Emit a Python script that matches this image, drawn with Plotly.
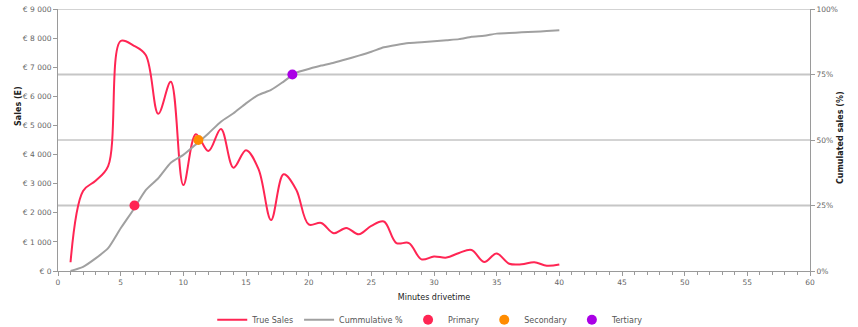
import plotly.graph_objects as go

minutes = list(range(1, 41))
true_sales = [300, 2750, 3100, 3600, 7900, 7750, 7420, 5400, 6500, 2950,
              4700, 4120, 4880, 3550, 4150, 3500, 1750, 3320, 2800, 1600,
              1650, 1300, 1480, 1260, 1550, 1700, 960, 960, 400, 500,
              460, 620, 720, 310, 600, 250, 230, 300, 180, 220]
cumulative_pct = [0, 1.6, 4.8, 8.7, 16.3, 23.3, 30.9, 35.4, 41.3, 44.3,
                  48.3, 52.5, 57.0, 60.2, 64.0, 67.2, 69.1, 72.3, 75.7, 77.1,
                  78.4, 79.5, 80.8, 82.2, 83.7, 85.4, 86.3, 87.0, 87.3, 87.7,
                  88.1, 88.5, 89.4, 89.8, 90.6, 90.8, 91.1, 91.3, 91.6, 91.9]

markers = ["Primary", "Secondary", "Tertiary"]
marker_x = [6.1, 11.2, 18.7]
marker_pct = [25, 50, 75]
marker_colors = ["#ff2553", "#ff8c00", "#aa00e6"]

sales_ticks = list(range(0, 9001, 1000))
sales_ticktext = ["€ " + (f"{v:,}".replace(",", " ")) for v in sales_ticks]
pct_ticks = [0, 25, 50, 75, 100]
pct_ticktext = [f"{v}%" for v in pct_ticks]
dark_levels = [50, 100]
light_levels = [25, 75]

FONT = "DejaVu Sans"
AX = "#9a9a9a"
TXT = "#666666"
TITLE = "#222222"
TICKSIZE = 7.5

fig = go.Figure()
fig.add_trace(go.Scatter(x=minutes, y=true_sales, name="True Sales", mode="lines",
                         line=dict(color="#ff2553", width=2, shape="spline", smoothing=1.0),
                         yaxis="y"))
fig.add_trace(go.Scatter(x=minutes, y=cumulative_pct, name="Cummulative %", mode="lines",
                         line=dict(color="#a0a0a0", width=2, shape="spline", smoothing=0.6),
                         yaxis="y2"))
for name, mx, my, c in zip(markers, marker_x, marker_pct, marker_colors):
    fig.add_trace(go.Scatter(x=[mx], y=[my], name=name, mode="markers",
                             marker=dict(color=c, size=10), yaxis="y2"))

for lv in light_levels:
    fig.add_shape(type="line", xref="paper", x0=0, x1=1, yref="y2", y0=lv, y1=lv,
                  line=dict(color="#c6c6c6", width=2), layer="below")
for lv in dark_levels:
    fig.add_shape(type="line", xref="paper", x0=0, x1=1, yref="y2", y0=lv, y1=lv,
                  line=dict(color="#a8a8a8", width=1), layer="below")

fig.add_annotation(text="<b>Sales (E)</b>", xref="paper", yref="paper", x=-0.0519, y=0.63,
                   xanchor="center", yanchor="middle", textangle=-90, showarrow=False,
                   font=dict(size=8, color=TITLE, family=FONT))
fig.add_annotation(text="<b>Cumulated sales (%)</b>", xref="paper", yref="paper", x=1.0415, y=0.508,
                   xanchor="center", yanchor="middle", textangle=-90, showarrow=False,
                   font=dict(size=8, color=TITLE, family=FONT))

fig.update_layout(
    width=858, height=327,
    margin=dict(l=58, r=48, t=9, b=56, autoexpand=False),
    paper_bgcolor="white", plot_bgcolor="white",
    font=dict(family=FONT, size=8, color=TXT),
    showlegend=True,
    legend=dict(orientation="h", x=0.495, xanchor="center", yref="container",
                y=0.022, yanchor="middle",
                font=dict(size=8, color="#555555"), itemwidth=30, tracegroupgap=0),
    xaxis=dict(range=[0, 60], tickvals=list(range(0, 61, 5)), showgrid=False,
               showline=True, linecolor=AX, linewidth=1, ticks="outside", ticklen=4,
               tickcolor=AX, tickfont=dict(size=TICKSIZE, color=TXT), zeroline=False,
               minor=dict(dtick=1, ticks="outside", ticklen=3, tickcolor=AX, showgrid=False),
               title=dict(text="Minutes drivetime", font=dict(size=8, color=TITLE), standoff=8)),
    yaxis=dict(range=[0, 9000], tickvals=sales_ticks, ticktext=sales_ticktext, showgrid=False,
               showline=True, linecolor=AX, linewidth=1, ticks="outside", ticklen=4,
               tickcolor=AX, tickfont=dict(size=TICKSIZE, color=TXT), zeroline=False),
    yaxis2=dict(range=[0, 100], overlaying="y", side="right", tickvals=pct_ticks,
                ticktext=pct_ticktext, showgrid=False,
                showline=True, linecolor=AX, linewidth=1, ticks="outside", ticklen=4,
                tickcolor=AX, tickfont=dict(size=TICKSIZE, color=TXT), zeroline=False),
)

fig.write_html("out.html")
